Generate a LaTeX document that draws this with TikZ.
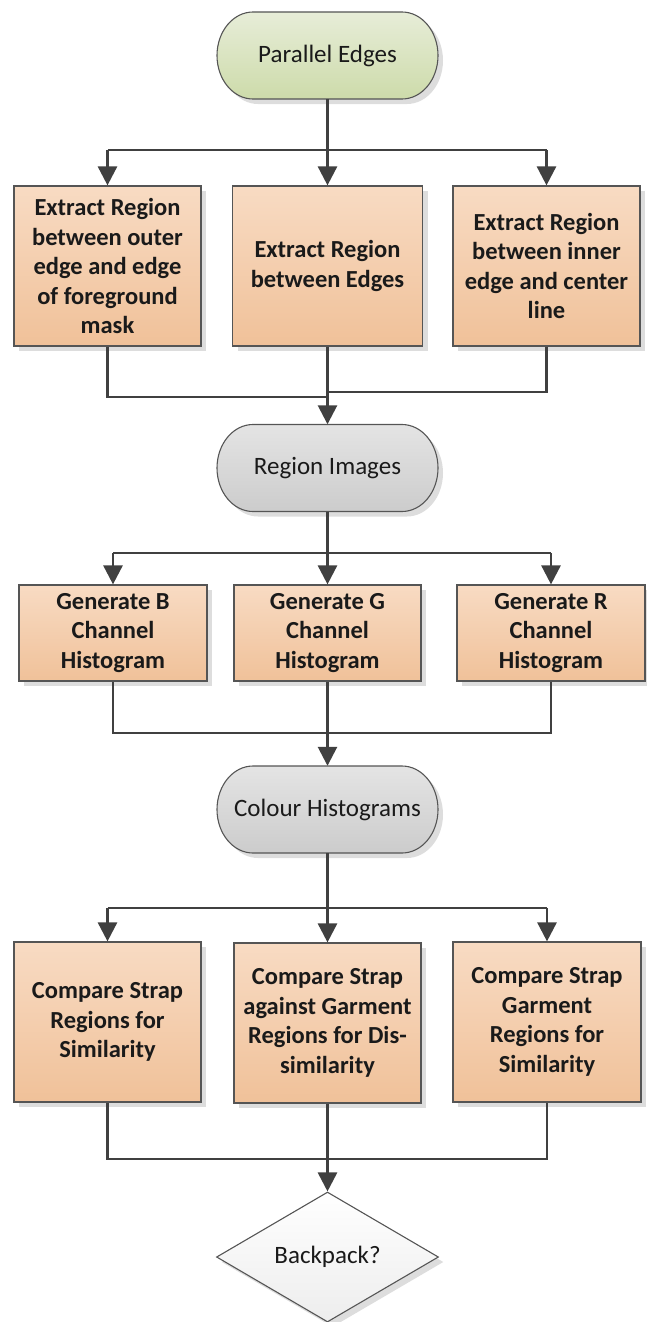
\documentclass[tikz,border=0pt]{standalone}
\usepackage{fontspec}
\setmainfont{Carlito}
\usetikzlibrary{arrows.meta,shapes.geometric,shadows}

\definecolor{lineC}{HTML}{404040}
\definecolor{edgeC}{HTML}{555555}
\definecolor{txtC}{HTML}{1A1A1A}
\definecolor{orTop}{HTML}{F8DBC3}
\definecolor{orBot}{HTML}{F0C199}
\definecolor{grTop}{HTML}{E7EDD8}
\definecolor{grBot}{HTML}{CDDBAA}
\definecolor{gyTop}{HTML}{E4E4E4}
\definecolor{gyBot}{HTML}{CCCCCC}
\definecolor{dmTop}{HTML}{FFFFFF}
\definecolor{dmBot}{HTML}{EDEDED}
\definecolor{shadC}{HTML}{DDDDDD}

\tikzset{
  procbox/.style={rectangle, draw=edgeC, line width=1.2pt,
    top color=orTop, bottom color=orBot, inner sep=0pt,
    font=\fontsize{24.5}{29.5}\selectfont\bfseries, text=txtC, align=center,
    drop shadow={shadow xshift=5pt, shadow yshift=-5pt, fill=shadC, opacity=1}},
  termtext/.style={rectangle, inner sep=0pt, minimum width=221pt, minimum height=87pt,
    font=\fontsize{25}{30}\selectfont, text=txtC},
  termline/.style={draw=edgeC, line width=1.1pt},
  conn/.style={draw=lineC, line width=2.7pt},
  arr/.style={conn, -{Triangle[length=19pt,width=19pt]}},
}

% rounded terminator outline centred at (#1,#2), filled from #3 to #4
\newcommand\termoutline[4]{%
  \fill[shadC] (#1-74.5+5,#2+43.5-5) -- (#1+74.5+5,#2+43.5-5)
    arc[start angle=90,end angle=-90,x radius=36pt,y radius=43.5pt]
    -- (#1-74.5+5,#2-43.5-5)
    arc[start angle=270,end angle=90,x radius=36pt,y radius=43.5pt] -- cycle;
  \path[termline, top color=#3, bottom color=#4]
    (#1-74.5,#2+43.5) -- (#1+74.5,#2+43.5)
    arc[start angle=90,end angle=-90,x radius=36pt,y radius=43.5pt]
    -- (#1-74.5,#2-43.5)
    arc[start angle=270,end angle=90,x radius=36pt,y radius=43.5pt] -- cycle;
}

\begin{document}
\begin{tikzpicture}[x=1pt,y=1pt]
\useasboundingbox (0,0) rectangle (646,-1322);

% start terminator
\termoutline{327.5}{-55.5}{grTop}{grBot}
\node[termtext] (pe) at (327.5,-55.5) {Parallel Edges};

% region extraction
\node[procbox, minimum width=187pt, minimum height=160pt] (a1) at (107.5,-266)
  {Extract Region\\between outer\\edge and edge\\of foreground\\mask};
\node[procbox, minimum width=190pt, minimum height=160pt] (a2) at (327.5,-266)
  {Extract Region\\between Edges};
\node[procbox, minimum width=187pt, minimum height=160pt] (a3) at (546.5,-266)
  {Extract Region\\between inner\\edge and center\\line};

\termoutline{327.5}{-468}{gyTop}{gyBot}
\node[termtext] (ri) at (327.5,-468) {Region Images};

% histograms
\node[procbox, minimum width=188pt, minimum height=96pt] (b1) at (113,-633)
  {Generate B\\Channel\\Histogram};
\node[procbox, minimum width=187pt, minimum height=96pt] (b2) at (327.5,-633)
  {Generate G\\Channel\\Histogram};
\node[procbox, minimum width=188pt, minimum height=96pt] (b3) at (551,-633)
  {Generate R\\Channel\\Histogram};

\termoutline{327.5}{-809.5}{gyTop}{gyBot}
\node[termtext] (ch) at (327.5,-809.5) {Colour Histograms};

% comparisons
\node[procbox, minimum width=187pt, minimum height=160pt] (c1) at (107.5,-1022)
  {Compare Strap\\Regions for\\Similarity};
\node[procbox, minimum width=187pt, minimum height=160pt] (c2) at (327.5,-1023)
  {Compare Strap\\against Garment\\Regions for Dis-\\similarity};
\node[procbox, minimum width=188pt, minimum height=160pt] (c3) at (547,-1022)
  {Compare Strap\\Garment\\Regions for\\Similarity};

% decision
\node[diamond, draw=edgeC, line width=1.1pt, top color=dmTop, bottom color=dmBot,
  minimum width=222pt, minimum height=130pt, inner sep=0pt,
  font=\fontsize{25}{30}\selectfont, text=txtC,
  drop shadow={shadow xshift=5pt, shadow yshift=-5pt, fill=shadC, opacity=1}]
  (bp) at (327.5,-1257) {Backpack?};

% split points and merge points
\coordinate (s1) at (327.5,-150);
\coordinate (m1l) at (327.5,-397);
\coordinate (m1r) at (327.5,-392);
\coordinate (s2) at (327.5,-553);
\coordinate (m2) at (327.5,-733);
\coordinate (s3) at (327.5,-908);
\coordinate (m3) at (327.5,-1159);

% connectors
\draw[conn] (a1.north |- s1) -- (a3.north |- s1);
\draw[arr] (pe.south) -- (a2.north);
\draw[arr] (a1.north |- s1) -- (a1.north);
\draw[arr] (a3.north |- s1) -- (a3.north);
\draw[conn] (a1.south) |- (m1l);
\draw[conn] (a3.south) |- (m1r);
\draw[arr] (a2.south) -- (ri.north);

\draw[conn] (b1.north |- s2) -- (b3.north |- s2);
\draw[arr] (ri.south) -- (b2.north);
\draw[arr] (b1.north |- s2) -- (b1.north);
\draw[arr] (b3.north |- s2) -- (b3.north);
\draw[conn] (b1.south) |- (m2);
\draw[conn] (b3.south) |- (m2);
\draw[arr] (b2.south) -- (ch.north);

\draw[conn] (c1.north |- s3) -- (c3.north |- s3);
\draw[arr] (ch.south) -- (c2.north);
\draw[arr] (c1.north |- s3) -- (c1.north);
\draw[arr] (c3.north |- s3) -- (c3.north);
\draw[conn] (c1.south) |- (m3);
\draw[conn] (c3.south) |- (m3);
\draw[arr] (c2.south) -- (bp.north);
\end{tikzpicture}
\end{document}
